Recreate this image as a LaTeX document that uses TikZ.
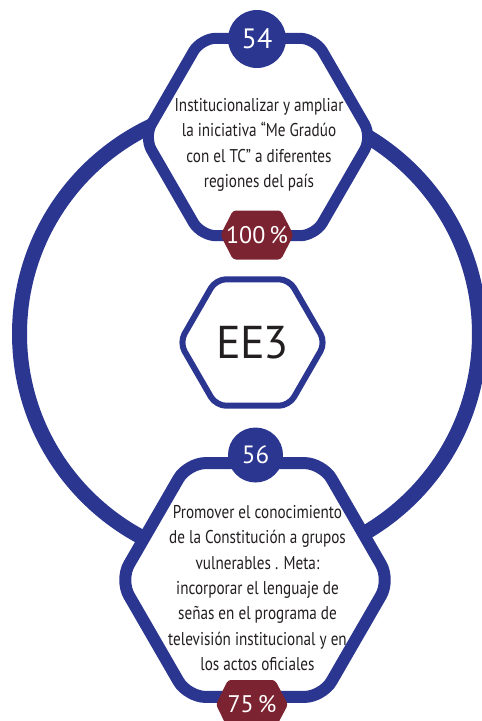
\documentclass[tikz,border=0pt]{standalone}
\usepackage{fontspec}
\setmainfont{PT Sans}
\newfontfamily\condfont[FakeStretch=0.82]{PT Sans}
\usepackage{tikz}
\usetikzlibrary{shapes.geometric,positioning}
\definecolor{navy}{HTML}{2B3691}
\definecolor{wine}{HTML}{7B2331}
\definecolor{ink}{HTML}{231F20}
\tikzset{
  ringline/.style={
    circle, draw=navy, line width=15pt,
    minimum size=#1, inner sep=0pt
  },
  hexbox/.style={
    regular polygon, regular polygon sides=6,
    draw=navy, fill=white, line width=#1,
    inner sep=0pt
  },
  hexbox/.default=11pt,
  numcircle/.style={
    circle, fill=navy, text=white,
    minimum size=#1, inner sep=0pt
  },
  pctbadge/.style={
    fill=wine, rounded corners=3pt
  },
  pcttext/.style={
    text=white, font=\fontsize{24}{24}\selectfont, inner sep=0pt
  },
  bodytext/.style={
    text=ink, align=center, inner sep=0pt,
    font=\condfont\fontsize{18.5}{25.3}\selectfont
  },
}

\begin{document}
\begin{tikzpicture}[x=1pt, y=-1pt]
  \useasboundingbox (0,0) rectangle (482,721);

  % Ring behind everything
  \node[ringline=460pt] (ring) at (249.5,334) {};

  % Top hexagon
  \node[hexbox=11pt, rounded corners=15pt, minimum size=228pt] (hextop) at (258,137) {};
  \node[bodytext] (txttop) at (259,145)
    {Institucionalizar y ampliar\\la iniciativa “Me Gradúo\\con el TC” a diferentes\\regiones del país};
  \node[numcircle=58pt, font=\fontsize{28}{28}\selectfont] (num54) at (257,39) {54};
  \coordinate (pct1) at (257,235);
  \fill[pctbadge] (pct1) +(-36.5,0) -- +(-24,-24.5) -- +(24,-24.5)
    -- +(36.5,0) -- +(24,24.5) -- +(-24,24.5) -- cycle;
  \node[pcttext] (pcttxt1) at (pct1) {100\,\%};

  % Centre hexagon
  \node[hexbox=6pt, rounded corners=10pt, minimum size=146pt] (hexmid) at (252.5,342.5) {};
  \node[text=ink, font=\fontsize{46}{46}\selectfont, inner sep=0pt] (ee3) at (hexmid) {E\kern-1ptE\kern-1pt3};

  % Bottom hexagon
  \node[hexbox=12pt, rounded corners=18pt, minimum size=270pt] (hexbot) at (255,580) {};
  \node[bodytext] (txtbot) at (257.5,588)
    {Promover el conocimiento\\de la Constitución a grupos\\vulnerables . Meta:\\incorporar el lenguaje de\\señas en el programa de\\televisión institucional y en\\los actos oficiales};
  \node[numcircle=55pt, font=\fontsize{25}{25}\selectfont] (num56) at (255.5,455) {56};
  \coordinate (pct2) at (252,704.5);
  \fill[pctbadge] (pct2) +(-36,0) -- +(-24,-24.5) -- +(23,-24.5)
    -- +(36,0) -- +(23,24.5) -- +(-24,24.5) -- cycle;
  \node[pcttext] (pcttxt2) at (pct2) {75\,\%};
\end{tikzpicture}
\end{document}
